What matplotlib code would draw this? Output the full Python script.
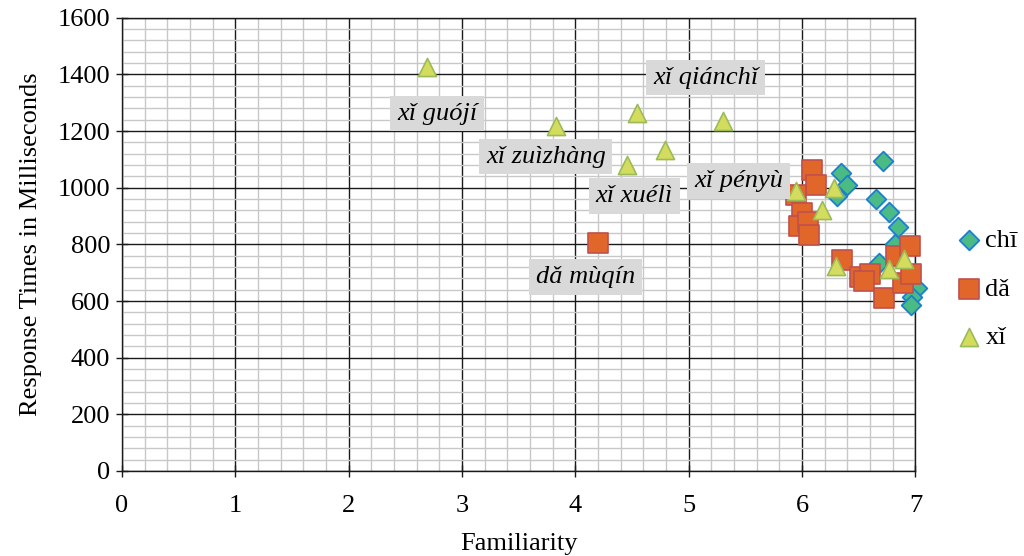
import matplotlib
matplotlib.use('Agg')
import matplotlib.pyplot as plt
from matplotlib.ticker import MultipleLocator

plt.rcParams['font.family'] = ['Liberation Serif', 'DejaVu Serif']

# chī
chi_x = [6.71, 6.34, 6.40, 6.31, 6.65, 6.77, 6.85, 6.82, 6.68, 7.01, 6.97, 6.96]
chi_y = [1093, 1053, 1010, 970, 961, 914, 861, 802, 733, 645, 614, 586]

# dǎ
da_x = [4.20, 6.09, 6.12, 5.95, 6.00, 5.97, 6.05, 6.06, 6.35, 6.51, 6.60,
        6.55, 6.72, 6.83, 6.95, 6.89, 6.96]
da_y = [805, 1063, 1010, 975, 910, 866, 878, 833, 745, 686, 696,
        669, 611, 760, 795, 663, 696]

# xǐ
xi_x = [2.69, 3.83, 4.54, 4.79, 4.46, 5.30, 5.95, 6.28, 6.18, 6.30, 6.77, 6.90]
xi_y = [1427, 1219, 1265, 1134, 1081, 1236, 987, 1000, 922, 722, 712, 748]

labels = ['xǐ guójí', 'xǐ qiánchǐ', 'xǐ zuìzhàng', 'xǐ xuélì', 'xǐ pényù', 'dǎ mùqín']
label_x = [2.78, 5.15, 3.74, 4.52, 5.44, 4.09]
label_y = [1261, 1388, 1109, 971, 1024, 685]

fig = plt.figure(figsize=(10.24, 5.56), dpi=100)
ax = fig.add_axes([0.119, 0.153, 0.775, 0.815])

ax.set_xlim(0, 7)
ax.set_ylim(0, 1600)
ax.xaxis.set_major_locator(MultipleLocator(1))
ax.xaxis.set_minor_locator(MultipleLocator(0.2))
ax.yaxis.set_major_locator(MultipleLocator(200))
ax.yaxis.set_minor_locator(MultipleLocator(40))
ax.grid(which='minor', color='#c8c8c8', linewidth=1.0, zorder=0)
ax.grid(which='major', color='#1a1a1a', linewidth=1.0, zorder=0)
ax.set_axisbelow(True)
for s in ax.spines.values():
    s.set_color('#1a1a1a')
    s.set_linewidth(1.0)
ax.tick_params(which='major', direction='inout', length=9, width=1,
               labelsize=19, color='#1a1a1a')
ax.tick_params(which='minor', length=0)
ax.tick_params(axis='x', pad=13)
ax.tick_params(axis='y', pad=4)

ax.scatter(chi_x, chi_y, marker='D', s=100, facecolor='#4bbb86',
           edgecolor='#1a7fd0', linewidth=1.3, zorder=3, label='chī',
           clip_on=False)
ax.scatter(da_x, da_y, marker='s', s=210, facecolor='#e0662a',
           edgecolor='#c0504d', linewidth=1.2, zorder=4, label='dǎ',
           clip_on=False)
ax.scatter(xi_x, xi_y, marker='^', s=170, facecolor='#d4dc5e',
           edgecolor='#9bbb59', linewidth=1.2, zorder=5, label='xǐ',
           clip_on=False)

for t, lx, ly in zip(labels, label_x, label_y):
    ax.text(lx, ly, t, ha='center', va='center', fontsize=19, style='italic',
            zorder=6,
            bbox=dict(boxstyle='square,pad=0.25', fc='#d9d9d9', ec='none'))

ax.set_xlabel('Familiarity', fontsize=19, labelpad=11)
ax.set_ylabel('Response Times in Milliseconds', fontsize=19, labelpad=11)

fig.legend(loc='center left', bbox_to_anchor=(0.921, 0.48), frameon=False,
           fontsize=19, handletextpad=0.0, labelspacing=0.95,
           borderaxespad=0, handlelength=1.2)

fig.savefig('out.png', dpi=100)
